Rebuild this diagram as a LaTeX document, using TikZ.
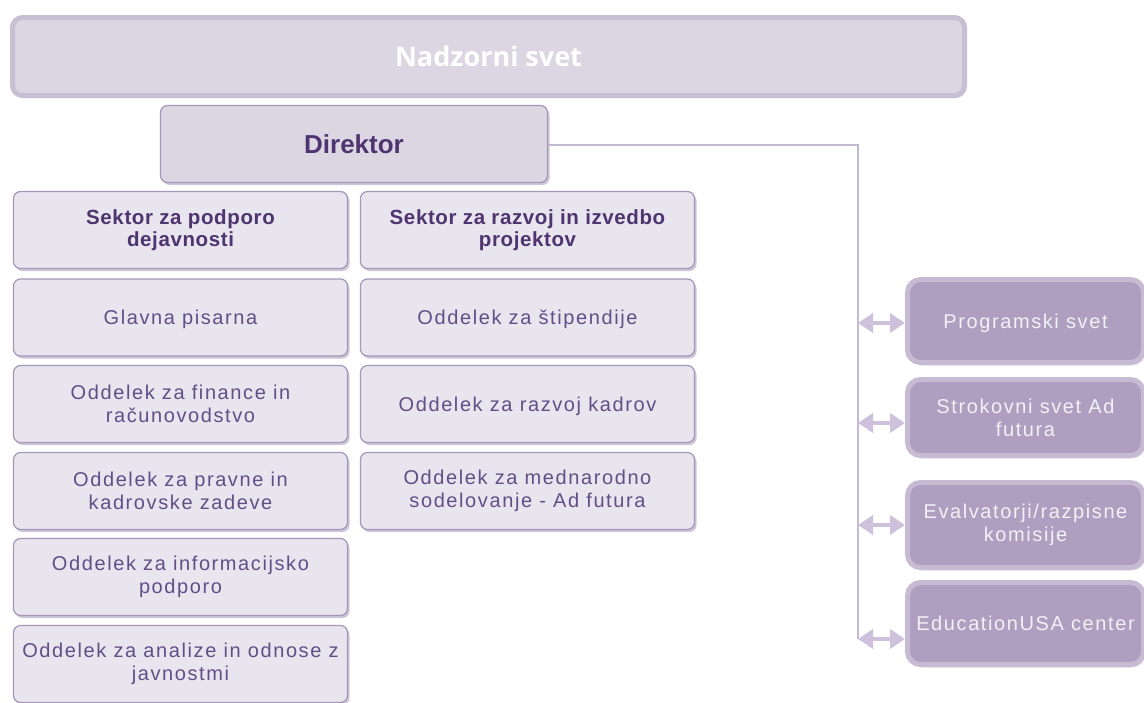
\documentclass[tikz,border=0pt]{standalone}
\usepackage{fontspec}
\setmainfont{Liberation Sans}
\newfontfamily\bodyf[LetterSpace=8]{Liberation Sans}
\newfontfamily\sekf[LetterSpace=3]{Liberation Sans}
\newfontfamily\nadf{Open Sans}
\usetikzlibrary{arrows.meta,shadows}
\definecolor{lfill}{HTML}{E8E5EE}
\definecolor{lborder}{HTML}{A497B8}
\definecolor{ltext}{HTML}{614F88}
\definecolor{dtext}{HTML}{4E3570}
\definecolor{nfill}{HTML}{DCD6E3}
\definecolor{nborder}{HTML}{C8BFD5}
\definecolor{rfill}{HTML}{AE9FC0}
\definecolor{rborder}{HTML}{C6BBD2}
\definecolor{rtext}{HTML}{F3F0F6}
\definecolor{linecol}{HTML}{C3B7D3}
\definecolor{arrcol}{HTML}{CDC1DC}
\definecolor{shadcol}{HTML}{B9AECA}
\tikzset{
  lbox/.style={draw=lborder, line width=1.2pt, fill=lfill, rounded corners=7pt,
    minimum width=334pt, minimum height=77pt, inner sep=0pt, align=center,
    text=ltext, font=\bodyf\fontsize{20}{23}\selectfont,
    drop shadow={shadow xshift=2pt, shadow yshift=-2.5pt, fill=shadcol, opacity=0.7}},
  oneline/.style={text depth=0pt},
  sekbox/.style={lbox, text=dtext, font=\sekf\bfseries\fontsize{20.5}{22}\selectfont},
  dirbox/.style={lbox, fill=nfill, minimum width=387pt, text=dtext,
    font=\bfseries\fontsize{26}{30}\selectfont},
  nadbox/.style={draw=nborder, line width=5pt, fill=nfill, rounded corners=10pt,
    minimum width=952pt, minimum height=78pt, inner sep=0pt, text=white,
    font=\nadf\bfseries\fontsize{27}{30}\selectfont,
    drop shadow={shadow xshift=2pt, shadow yshift=-2.5pt, fill=shadcol!60, opacity=0.6}},
  rbox/.style={draw=rborder, line width=5pt, fill=rfill, rounded corners=13pt,
    minimum width=236pt, inner sep=0pt, align=center, text=rtext,
    font=\bodyf\fontsize{20}{23}\selectfont,
    drop shadow={shadow xshift=2pt, shadow yshift=-3pt, fill=rborder!70, opacity=0.6}},
  conn/.style={draw=linecol, line width=1.3pt},
  biarr/.style={draw=arrcol, line width=4.5pt, >={Triangle[width=19pt,length=15pt]}, <->}
}
\begin{document}
\begin{tikzpicture}[x=1pt,y=-1pt]
\fill[white] (0,0) rectangle (1144,702);
\useasboundingbox (0,0) rectangle (1144,702);

\coordinate (top) at (858,145);
\coordinate (j1) at (858,323);
\coordinate (j2) at (858,423);
\coordinate (j3) at (858,525);
\coordinate (j4) at (858,639);

\node[nadbox] (nad) at (488.5,56.5) {Nadzorni svet};
\node[dirbox] (dir) at (354,144) {Direktor};

\draw[conn] (dir.east |- top) -- (top) -- (j4);

\node[sekbox] (seka) at (180.5,230) {Sektor za podporo\\dejavnosti};
\node[sekbox] (sekb) at (527.5,230) {Sektor za razvoj in izvedbo\\projektov};

\node[lbox, oneline] (a1) at (180.5,317.5) {Glavna pisarna};
\node[lbox] (a2) at (180.5,404) {Oddelek za finance in\\računovodstvo};
\node[lbox] (a3) at (180.5,491) {Oddelek za pravne in\\kadrovske zadeve};
\node[lbox] (a4) at (180.5,577) {Oddelek za informacijsko\\podporo};
\node[lbox] (a5) at (180.5,664) {Oddelek za analize in odnose z\\javnostmi};

\node[lbox, oneline] (b1) at (527.5,317.5) {Oddelek za štipendije};
\node[lbox, oneline] (b2) at (527.5,404) {Oddelek za razvoj kadrov};
\node[lbox] (b3) at (527.5,491) {Oddelek za mednarodno\\sodelovanje - Ad futura};

\node[rbox, oneline, minimum height=83pt] (r1) at (1025.5,321) {Programski svet};
\node[rbox, minimum height=76pt] (r2) at (1025.5,417.5) {Strokovni svet Ad\\futura};
\node[rbox, minimum height=85pt] (r3) at (1025.5,525) {Evalvatorji/razpisne\\komisije};
\node[rbox, minimum height=82pt] (r4) at (1025.5,623.5) {EducationUSA center};

\draw[biarr] (j1) -- (j1 -| r1.west);
\draw[biarr] (j2) -- (j2 -| r2.west);
\draw[biarr] (j3) -- (j3 -| r3.west);
\draw[biarr] (j4) -- (j4 -| r4.west);
\end{tikzpicture}
\end{document}
